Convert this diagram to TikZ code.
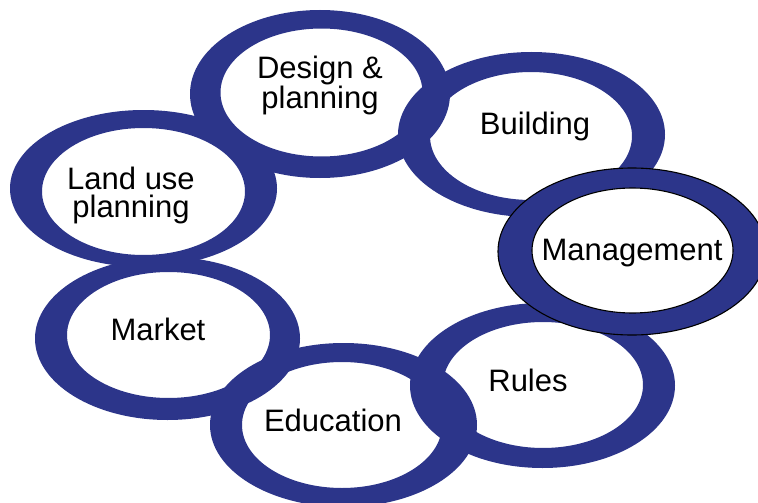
\documentclass[tikz,border=0pt]{standalone}
\usepackage{fontspec}
\setmainfont{Liberation Sans}
\definecolor{ringblue}{RGB}{44,53,138}
\begin{document}
\begin{tikzpicture}[x=1pt,y=-1pt,
  ringband/.style={fill=ringblue,even odd rule},
  label/.style={font=\fontsize{31}{28}\selectfont,inner sep=0pt,align=center,anchor=base,text=black},
  mgmtline/.style={draw=black,line width=1.1pt}]
\useasboundingbox (0,0) rectangle (758,503);
\clip (0,0) rectangle (758,503);
\fill[white] (0,0) rectangle (758,503);
% rings
\fill[ringband] (143.5,188.5) ellipse [x radius=133.5,y radius=78.5] (143.5,191.5) ellipse [x radius=101.5,y radius=63.5];
\fill[ringband] (320,94) ellipse [x radius=130,y radius=84] (321.5,92.5) ellipse [x radius=101,y radius=64];
\fill[ringband] (531.5,134.5) ellipse [x radius=133.5,y radius=82.5] (531,136) ellipse [x radius=101,y radius=64];
\fill[ringband] (542.5,385.5) ellipse [x radius=132.5,y radius=82.5] (543,385) ellipse [x radius=100,y radius=63];
\fill[ringband] (343.5,425) ellipse [x radius=133.5,y radius=82] (342,425) ellipse [x radius=100,y radius=63];
\fill[ringband] (167.5,338.5) ellipse [x radius=132.5,y radius=81.5] (168.5,335) ellipse [x radius=101.5,y radius=63];
% management ring on top
\filldraw[fill=ringblue,mgmtline] (632,251.5) ellipse [x radius=134,y radius=83.5];
\filldraw[fill=white,mgmtline] (632.5,250.5) ellipse [x radius=100.5,y radius=62.5];
% labels
\node[label] (design) at (320,108) {Design \&\\planning};
\node[label] (building) at (535,134) {Building};
\node[label] (management) at (632,260) {Management};
\node[label] (rules) at (528,391) {Rules};
\node[label] (education) at (333,431) {Education};
\node[label] (market) at (158,340) {Market};
\node[label] (landuse) at (131,217) {Land use\\planning};
\end{tikzpicture}
\end{document}
